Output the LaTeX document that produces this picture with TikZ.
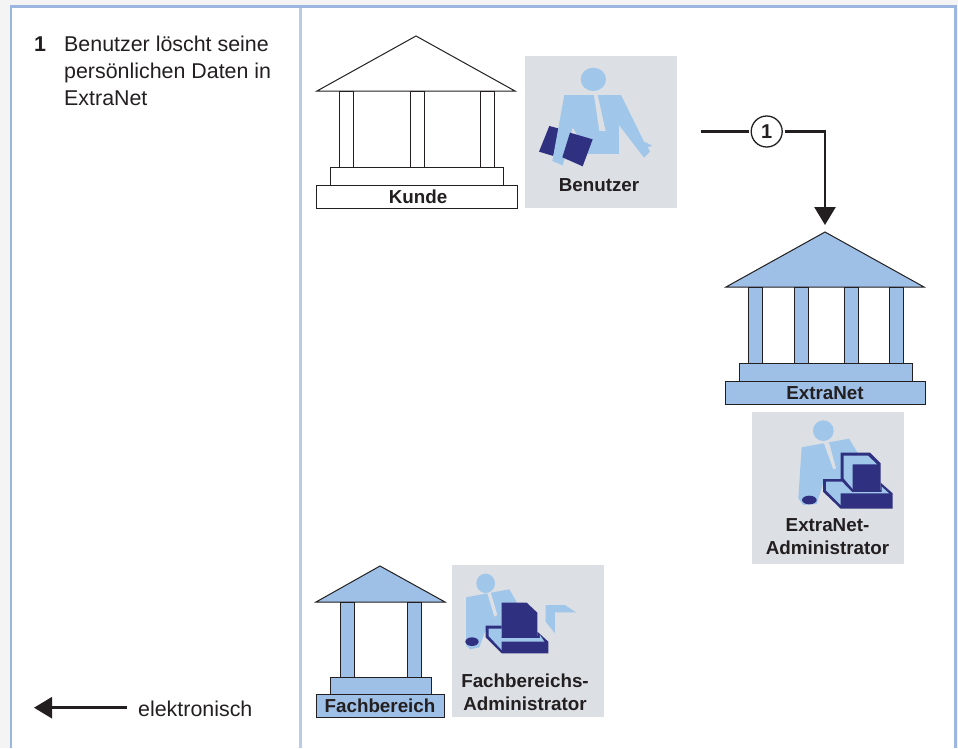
\documentclass[tikz,border=0pt]{standalone}
\usepackage{fontspec}
\setmainfont{Liberation Sans}
\usetikzlibrary{arrows.meta}
\definecolor{ink}{HTML}{231F20}
\definecolor{framecol}{HTML}{9DB6E0}
\definecolor{divcol}{HTML}{BBCBE5}
\definecolor{pagecol}{HTML}{F4F4F4}
\definecolor{boxcol}{HTML}{DCDFE4}
\definecolor{skin}{HTML}{A0C6EA}
\definecolor{templeblue}{HTML}{9FC0E6}
\definecolor{navy}{HTML}{2F3180}
\tikzset{
  part/.style={draw=ink,line width=1pt},
  plain/.style={part,fill=white},
  blue/.style={part,fill=templeblue},
  userbox/.style={fill=boxcol,draw=none},
  caption/.style={font=\fontsize{18.8}{23}\selectfont\bfseries,text=ink,inner sep=0pt,align=center},
  body/.style={font=\fontsize{21.4}{27}\selectfont,text=ink,inner sep=0pt,anchor=base west},
  flow/.style={draw=ink,line width=2.6pt},
  flowtip/.style={-{Triangle[length=18pt,width=21pt]}},
  pen/.style={fill=navy},
  flesh/.style={fill=skin},
  tie/.style={fill=boxcol},
  icon/.style={x=0.3333pt,y=-0.3333pt}
}
\begin{document}
\begin{tikzpicture}[x=1pt,y=-1pt]
\useasboundingbox (0,0) rectangle (958,748);
\fill[pagecol] (0,0) rectangle (958,748);
\fill[white] (10,6) rectangle (956,748);
\draw[divcol,line width=2.6pt] (300.5,6) -- (300.5,748);
\draw[framecol,line width=2.2pt] (11,748) -- (11,6.5) -- (955.5,6.5) -- (955.5,748);

% left text
\node[body,font=\fontsize{21.4}{27}\selectfont\bfseries] (stepno) at (34,51) {1};
\node[body] (l1) at (64,51) {Benutzer löscht seine};
\node[body] (l2) at (64,78) {persönlichen Daten in};
\node[body] (l3) at (64,105) {ExtraNet};

% legend
\coordinate (legA) at (127,707.7);
\coordinate (legB) at (34,707.7);
\draw[flow,flowtip] (legA) -- (legB);
\node[body] (legtext) at (138,716) {elektronisch};

% Kunde temple
\draw[plain] (317,91) -- (416,36) -- (515,91) -- cycle;
\foreach \a in {339,410,480} \draw[plain] (\a,91) rectangle (\a+14,167);
\draw[plain] (330,167) rectangle (503,185);
\draw[plain] (316,185) rectangle (517,208);
\node[caption] (kunde) at (418,197) {Kunde};

% ExtraNet temple
\draw[blue] (726,287) -- (825,232) -- (924,287) -- cycle;
\foreach \a in {748,794,844,889} {
  \draw[blue] (\a,287) rectangle (\a+14,363);
}
\draw[blue] (739,363) rectangle (912,381);
\draw[blue] (725,381) rectangle (925,404);
\node[caption] (extranet) at (825,393) {ExtraNet};

% Fachbereich temple
\draw[blue] (316,602) -- (380,566) -- (445,602) -- cycle;
\foreach \a in {340,407} \draw[blue] (\a,602) rectangle (\a+14,677);
\draw[blue] (330,677) rectangle (431,694);
\draw[blue] (316,694) rectangle (444,717);
\node[caption] (fach) at (380,706) {Fachbereich};

% Benutzer
\fill[userbox] (525,56) rectangle (677,208);
\begin{scope}[shift={(520,50)},icon]
  \fill[flesh] (220,88) ellipse [x radius=38,y radius=35];
  \fill[pen] (88,228) -- (57,305) -- (100,318) -- (118,236) -- cycle;
  \fill[flesh] (133,135) -- (303,135) -- (372,275) -- (397,287) -- (383,292) -- (390,305) -- (372,323) -- (297,225) -- (297,312) -- (205,312) -- (158,232) -- (128,346) -- (97,333) -- cycle;
  \fill[tie] (222,135) -- (233,135) -- (257,243) -- (238,243) -- cycle;
  \fill[pen] (150,248) -- (218,268) -- (188,349) -- (127,322) -- cycle;
\end{scope}
\node[caption] (benutzer) at (599,185) {Benutzer};

% ExtraNet-Administrator
\fill[userbox] (752,412) rectangle (904,564);
\begin{scope}[shift={(750,410)},icon]
  \fill[flesh] (220,62) ellipse [x radius=31,y radius=31];
  \fill[flesh] (155,112) -- (297,86) -- (330,140) -- (330,225) -- (218,225) -- (200,282) -- (160,285) -- (145,265) -- cycle;
  \fill[tie] (222,100) -- (237,97) -- (258,175) -- (250,178) -- cycle;
  \fill[pen] (178,270) ellipse [x radius=22,y radius=13];
  % monitor
  \fill[pen] (272,128) -- (360,128) -- (392,160) -- (392,245) -- (272,245) -- cycle;
  \fill[flesh] (281,137) -- (354,137) -- (381,163) -- (308,163) -- (308,237) -- (281,205) -- cycle;
  % keyboard
  \fill[pen] (219,207) -- (278,207) -- (310,240) -- (392,240) -- (392,218) -- (428,250) -- (428,296) -- (272,296) -- (219,245) -- cycle;
  \fill[flesh] (228,215) -- (276,215) -- (306,246) -- (395,246) -- (395,230) -- (417,250) -- (272,250) -- (272,285) -- (228,241) -- cycle;
\end{scope}
\node[caption] (exadmin) at (827.5,536.5) {ExtraNet-\\Administrator};

% Fachbereichs-Administrator
\fill[userbox] (452,565) rectangle (604,717);
\begin{scope}[shift={(450,560)},icon]
  \fill[flesh] (107,70) ellipse [x radius=28,y radius=29];
  \fill[flesh] (48,112) -- (178,88) -- (205,135) -- (205,215) -- (105,215) -- (88,262) -- (60,268) -- (48,255) -- cycle;
  \fill[tie] (112,100) -- (122,97) -- (142,165) -- (133,170) -- cycle;
  \fill[pen] (66,245) ellipse [x radius=20,y radius=13];
  % monitor
  \fill[pen] (155,128) -- (230,128) -- (262,158) -- (262,240) -- (155,240) -- cycle;
  % keyboard
  \fill[pen] (107,197) -- (155,197) -- (155,228) -- (262,228) -- (262,215) -- (295,245) -- (295,280) -- (155,280) -- (107,232) -- cycle;
  \fill[flesh] (116,206) -- (155,206) -- (155,234) -- (270,234) -- (270,225) -- (283,245) -- (155,245) -- (155,270) -- (116,228) -- cycle;
  % sleeve shape
  \fill[flesh] (287,135) -- (345,135) -- (378,157) -- (315,157) -- (315,220) -- (287,185) -- cycle;
\end{scope}
\node[caption] (fachadmin) at (525,692) {Fachbereichs-\\Administrator};

% connector
\coordinate (start) at (701,131.5);
\coordinate (apex) at (825,225);
\node[draw=ink,line width=1.3pt,circle,minimum size=31pt,inner sep=0pt,outer sep=2.4pt,font=\fontsize{20}{24}\selectfont\bfseries,text=ink] (one) at (766.7,131.5) {1};
\draw[flow] (start) -- (one);
\draw[flow,flowtip] (one) -| (apex);
\end{tikzpicture}
\end{document}
